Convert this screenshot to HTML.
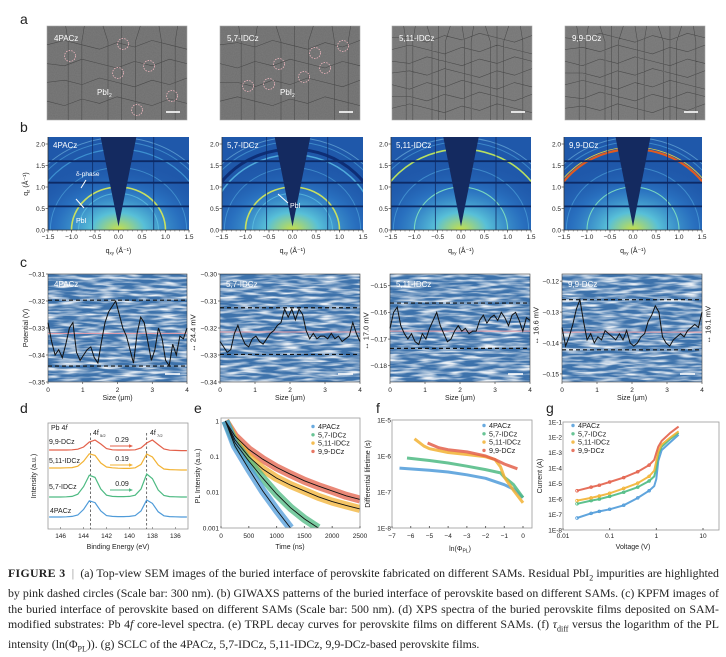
<!DOCTYPE html>
<html><head><meta charset="utf-8">
<style>
html,body{margin:0;padding:0;background:#fff;width:726px;height:649px;overflow:hidden}
svg{position:absolute;left:0;top:0;font-family:"Liberation Sans",sans-serif}
#cap{position:absolute;left:8px;top:566px;width:711px;font-family:"Liberation Serif",serif;font-size:11.85px;line-height:15.6px;color:#222;text-align:justify;text-align-last:left}
#cap b{font-weight:bold;letter-spacing:0.3px}
</style></head>
<body>
<svg id="fig" width="726" height="566" viewBox="0 0 726 566" xmlns="http://www.w3.org/2000/svg">
<defs>
<filter id="semtex" x="0" y="0" width="100%" height="100%">
<feTurbulence type="fractalNoise" baseFrequency="0.9" numOctaves="1" seed="3"/>
<feColorMatrix type="matrix" values="0 0 0 0 0.3  0 0 0 0 0.3  0 0 0 0 0.3  0 0 0 0.35 0"/>
</filter>
<filter id="kpfmtex" x="0" y="0" width="100%" height="100%">
<feTurbulence type="fractalNoise" baseFrequency="0.05 0.35" numOctaves="2" seed="7"/>
<feColorMatrix type="matrix" values="0 0 0 0 1  0 0 0 0 1  0 0 0 0 1  2.6 0 0 0 -1.0"/>
</filter>
<radialGradient id="gwglow" cx="0.5" cy="1" r="0.75">
<stop offset="0" stop-color="#c8e048"/>
<stop offset="0.25" stop-color="#58c0d8"/>
<stop offset="0.6" stop-color="#2f7fcc" stop-opacity="0.6"/>
<stop offset="1" stop-color="#1f55a8" stop-opacity="0"/>
</radialGradient>
</defs>
</svg>
<div id="cap"><b>FIGURE 3</b> &nbsp;<span style="color:#888">|</span>&nbsp; (a) Top-view SEM images of the buried interface of perovskite fabricated on different SAMs. Residual PbI<sub style="font-size:8px">2</sub> impurities are highlighted by pink dashed circles (Scale bar: 300 nm). (b) GIWAXS patterns of the buried interface of perovskite based on different SAMs. (c) KPFM images of the buried interface of perovskite based on different SAMs (Scale bar: 500 nm). (d) XPS spectra of the buried perovskite films deposited on SAM-modified substrates: Pb 4<i>f</i> core-level spectra. (e) TRPL decay curves for perovskite films on different SAMs. (f) <i>τ</i><sub style="font-size:8px">diff</sub> versus the logarithm of the PL intensity (ln(Φ<sub style="font-size:8px">PL</sub>)). (g) SCLC of the 4PACz, 5,7-IDCz, 5,11-IDCz, 9,9-DCz-based perovskite films.</div>
<script>
// ---------------- data ----------------
const samples = ["4PACz","5,7-IDCz","5,11-IDCz","9,9-DCz"];
const colors = ["#4f9bd9","#4dba82","#f2b233","#e3604a"];
const kpfmProfile1 = [-0.328,-0.335,-0.340,-0.338,-0.341,-0.336,-0.330,-0.328,-0.339,-0.342,-0.340,-0.338,-0.337,-0.341,-0.343,-0.335,-0.328,-0.324,-0.322,-0.320,-0.325,-0.330,-0.333,-0.338,-0.343,-0.332,-0.326,-0.328,-0.335,-0.342,-0.338,-0.330,-0.334,-0.342,-0.344,-0.336,-0.340,-0.333,-0.334,-0.330];
const kpfmProfile2 = [-0.325,-0.327,-0.329,-0.328,-0.322,-0.319,-0.323,-0.326,-0.327,-0.324,-0.323,-0.325,-0.326,-0.324,-0.322,-0.321,-0.319,-0.318,-0.313,-0.316,-0.313,-0.317,-0.313,-0.315,-0.321,-0.324,-0.322,-0.324,-0.323,-0.323,-0.324,-0.322,-0.324,-0.323,-0.325,-0.324,-0.323,-0.318,-0.322,-0.325];
const kpfmProfile3 = [-0.166,-0.160,-0.158,-0.165,-0.168,-0.170,-0.168,-0.171,-0.172,-0.168,-0.170,-0.166,-0.163,-0.160,-0.165,-0.168,-0.171,-0.170,-0.167,-0.165,-0.167,-0.166,-0.168,-0.167,-0.167,-0.163,-0.161,-0.164,-0.162,-0.161,-0.163,-0.160,-0.162,-0.165,-0.161,-0.160,-0.163,-0.167,-0.162,-0.163];
const kpfmProfile4 = [-0.135,-0.141,-0.138,-0.134,-0.129,-0.126,-0.133,-0.139,-0.137,-0.140,-0.138,-0.139,-0.136,-0.137,-0.138,-0.139,-0.137,-0.139,-0.136,-0.140,-0.141,-0.140,-0.138,-0.137,-0.133,-0.131,-0.128,-0.130,-0.138,-0.140,-0.141,-0.139,-0.138,-0.137,-0.138,-0.136,-0.135,-0.134,-0.135,-0.130];
const kpfmUpper = [-0.3197,-0.3125,-0.1565,-0.1260];
const kpfmLower = [-0.3441,-0.3298,-0.1735,-0.1422];
const kpfmMean = [-0.3320,-0.3215,-0.1670,-0.1365];
const kpfmSpread = ["24.4 mV","17.0 mV","16.6 mV","16.1 mV"];
const kpfmTicks1 = [-0.35,-0.34,-0.33,-0.32,-0.31];
const kpfmTicks2 = [-0.34,-0.33,-0.32,-0.31,-0.30];
const kpfmTicks3 = [-0.18,-0.17,-0.16,-0.15];
const kpfmTicks4 = [-0.15,-0.14,-0.13,-0.12];
const xpsEnergy = [147,146.5,146,145.5,145,144.5,144,143.5,143,142.5,142,141.5,141,140.5,140,139.5,139,138.5,138,137.5,137,136.5,136,135.5,135];
const xps4PACz = [0.6,0.6,0.6,0.61,0.63,0.70,0.98,1.41,1.32,0.90,0.67,0.63,0.62,0.62,0.63,0.67,0.90,1.45,1.28,0.86,0.66,0.62,0.61,0.6,0.6];
const xps57 = [1.6,1.6,1.6,1.61,1.63,1.74,2.12,2.69,2.58,2.0,1.69,1.63,1.62,1.62,1.63,1.69,2.0,2.75,2.52,1.95,1.68,1.62,1.61,1.6,1.6];
const xps511 = [3.05,3.05,3.05,3.06,3.07,3.14,3.39,3.76,3.68,3.30,3.10,3.06,3.04,3.03,3.03,3.06,3.23,3.75,3.60,3.20,3.0,2.97,2.96,2.95,2.95];
const xps99 = [3.95,3.95,3.95,3.95,3.96,3.99,4.10,4.35,4.45,4.25,4.02,3.96,3.95,3.95,3.95,3.96,4.05,4.30,4.45,4.22,4.0,3.94,3.93,3.92,3.92];
const xpsTicks = [146,144,142,140,138,136];
const xpsShift = ["0.29","0.19","0.09"];
const trplTime = [80,250,500,750,1000,1250,1500,1750,2000,2250,2500];
const trpl4PACz = [1,0.2,0.045,0.011,0.0032,0.001];
const trpl57 = [1,0.25,0.075,0.025,0.009,0.0037,0.0018,0.001];
const trpl511 = [1,0.3,0.1,0.045,0.025,0.016,0.011,0.0075,0.0055,0.0043,0.0034];
const trpl99 = [1,0.38,0.16,0.085,0.05,0.032,0.021,0.015,0.011,0.008,0.0063];
const trplXTicks = [0,500,1000,1500,2000,2500];
const trplYTicks = ["1","0.1","0.01","0.001"];
const lnPhi4PACz = [-6.6,-5,-4,-3,-2,-1,-0.5,0];
const tau4PACz = [4.6e-7,4.0e-7,3.6e-7,3.0e-7,2.4e-7,1.6e-7,1.2e-7,7e-8];
const lnPhi57 = [-6.2,-5,-4,-3,-2,-1.2,-1,-0.5,0];
const tau57 = [8.8e-7,7.5e-7,6.4e-7,5.2e-7,4.2e-7,3.4e-7,2.6e-7,1.6e-7,7e-8];
const lnPhi511 = [-5.8,-5.3,-5,-4,-3,-2,-1.5,-1.2,-1,-0.5,0];
const tau511 = [3e-6,1.9e-6,1.6e-6,1.25e-6,1.1e-6,9.5e-7,8e-7,5e-7,2.6e-7,1.1e-7,5e-8];
const lnPhi99 = [-5.1,-4.5,-4,-3,-2,-1.5,-1,-0.3];
const tau99 = [2.3e-6,1.7e-6,1.5e-6,1.3e-6,1.0e-6,8e-7,6e-7,4.4e-7];
const lifeXTicks = [-7,-6,-5,-4,-3,-2,-1,0];
const lifeYTicks = ["1E-5","1E-6","1E-7","1E-8"];
const voltage = [0.02,0.04,0.06,0.1,0.2,0.4,0.7,0.9,1.0,1.1,1.3,2,3];
const curr4PACz = [6e-8,1.2e-7,1.6e-7,2.2e-7,4e-7,1.2e-6,3.5e-6,7e-6,2e-5,3e-4,1.5e-3,5e-3,1.5e-2];
const curr57 = [5e-7,8e-7,1e-6,1.5e-6,2.8e-6,6e-6,1.5e-5,3e-5,1e-4,8e-4,2.5e-3,8e-3,2e-2];
const curr511 = [8e-7,1.2e-6,1.6e-6,2.4e-6,5e-6,1.1e-5,3e-5,7e-5,3e-4,1.2e-3,3.5e-3,1e-2,2.5e-2];
const curr99 = [3.5e-6,6e-6,8e-6,1.3e-5,2.5e-5,6e-5,1.6e-4,3.5e-4,1e-3,2.5e-3,6e-3,2e-2,5e-2];
const sclcXTicks = [0.01,0.1,1,10];
const sclcXLabels = ["0.01","0.1","1","10"];
const sclcYTicks = ["1E-1","1E-2","1E-3","1E-4","1E-5","1E-6","1E-7","1E-8"];
const giTicksX = [-1.5,-1.0,-0.5,0.0,0.5,1.0,1.5];
const giTicksY = [0.0,0.5,1.0,1.5,2.0];

const NS="http://www.w3.org/2000/svg";
const svg=document.getElementById('fig');
function add(tag,attrs,parent){const e=document.createElementNS(NS,tag);for(const k in attrs)e.setAttribute(k,attrs[k]);(parent||svg).appendChild(e);return e;}
function text(x,y,s,size,anchor,parent,fill){const t=add('text',{x:x,y:y,'font-size':size,'text-anchor':anchor||'start',fill:fill||'#222'},parent);t.textContent=s;return t;}
function lin(d0,d1,r0,r1){return v=>r0+(v-d0)*(r1-r0)/(d1-d0);}
function logs(d0,d1,r0,r1){return v=>r0+(Math.log10(v)-Math.log10(d0))*(r1-r0)/(Math.log10(d1)-Math.log10(d0));}
function pts(xs,ys,fx,fy){return xs.slice(0,ys.length).map((x,i)=>fx(x).toFixed(1)+','+fy(ys[i]).toFixed(1)).join(' ');}

[["a",20,24],["b",20,132],["c",20,267],["d",20,413],["e",194,413],["f",376,413],["g",546,413]].forEach(p=>{
  const t=text(p[1],p[2],p[0],14,'start');
  
  
});

// row a
const semX=[[47,187],[220,360],[392,532],[565,705]];
const semCircles=[[[70,56],[123,44],[118,73],[149,66],[172,96],[137,110]],[[248,86],[269,84],[279,64],[304,77],[315,53],[325,68],[343,46]],[],[]];
semX.forEach((c,i)=>{
  const g=add('g',{});
  
  
  add('rect',{x:c[0],y:26,width:c[1]-c[0],height:94,fill:i<2?'#6e6e6e':'#757575',stroke:'#aaa','stroke-width':0.6},g);
  add('rect',{x:c[0],y:26,width:c[1]-c[0],height:94,filter:'url(#semtex)'},g);
  let d='';const n=i<2?5:8;
  for(let r=1;r<n;r++){d+='M'+c[0]+','+(26+r*94/n);for(let k=1;k<=8;k++){d+=' L'+(c[0]+k*(c[1]-c[0])/8)+','+(26+r*94/n+((k*7+r*3+i)%5-2)*2.2);}}
  for(let k=1;k<n*1.5;k++){const x=c[0]+k*(c[1]-c[0])/(n*1.5);d+=' M'+x+',26';for(let r=1;r<=6;r++){d+=' L'+(x+((r*5+k*3)%5-2)*2.5)+','+(26+r*94/6);}}
  add('path',{d:d,fill:'none',stroke:'#3e3e3e','stroke-width':0.55,opacity:0.8},g);
  const lab=text(c[0]+7,41,samples[i],8,'start',g,'#fff');
  
  
  add('line',{x1:c[1]-21,x2:c[1]-7,y1:112,y2:112,stroke:'#fff','stroke-width':1.6},g);
  semCircles[i].forEach(p=>{
    const ci=add('circle',{cx:p[0],cy:p[1],r:5.5,fill:'none',stroke:'#f2b8c0','stroke-width':0.8,'stroke-dasharray':'1.5,1.2'},g);
    
    
  });
  if(i<2){const t=text(i==0?97:280,95,'PbI',8,'start',g,'#fff');const s=add('tspan',{'font-size':5,dy:2},t);s.textContent='2';}
});

// row b
const giX=[[48,189],[222,363],[391,531],[564,702]];
giX.forEach((c,i)=>{
  const fx=lin(-1.5,1.5,c[0],c[1]), fy=lin(0,2.0,230,144);
  const g=add('g',{});
  
  
  add('rect',{x:c[0],y:137,width:c[1]-c[0],height:93,fill:'#1f58aa'},g);
  add('rect',{x:c[0],y:137,width:c[1]-c[0],height:93,fill:'url(#gwglow)'},g);
  const clip='gclip'+i;
  const cp=add('clipPath',{id:clip},g);add('rect',{x:c[0],y:137,width:c[1]-c[0],height:93},cp);
  const gg=add('g',{'clip-path':'url(#'+clip+')'},g);
  const ring=(q,col,w,op)=>{const rx=fx(q)-fx(0),ry=fy(0)-fy(q);add('path',{d:`M${fx(-q)},230 A${rx},${ry} 0 0 1 ${fx(q)},230`,fill:'none',stroke:col,'stroke-width':w,opacity:op},gg);};
  ring(1.45,'#5bb8e8',1,0.5);ring(2.05,'#5bb8e8',1,0.5);ring(2.15,'#8ad0f0',1,0.5);
  if(i==0){ring(1.0,'#c8e060',1.6,1);ring(0.85,'#6ad0e8',1,0.6);ring(1.88,'#4aa8e0',1.2,0.7);}
  if(i==1){ring(1.0,'#c8e060',1.6,1);ring(0.85,'#6ad0e8',1,0.6);ring(1.88,'#0c2a70',3,0.9);ring(1.75,'#5cc0e8',1.5,0.8);}
  if(i==2){ring(1.0,'#80e0c0',1.1,0.9);ring(1.88,'#b8e060',1.6,1);}
  if(i==3){ring(1.0,'#80e0c0',1.1,0.9);ring(1.88,'#e05a20',2.2,1);ring(1.93,'#e8d040',0.8,1);}
  [0.55,1.1,1.6].forEach(q=>add('line',{x1:c[0],x2:c[1],y1:fy(q),y2:fy(q),stroke:'#0d2a66','stroke-width':1.8},gg));
  [-0.55,0.75].forEach(q=>add('line',{x1:fx(q),x2:fx(q),y1:137,y2:230,stroke:'#0d2a66','stroke-width':0.8},gg));
  add('polygon',{points:`${fx(-0.38)},137 ${fx(0.38)},137 ${fx(0)},${fy(0.08)}`,fill:'#142a60'},gg);
  add('line',{x1:c[0],x2:c[1],y1:230,y2:230,stroke:'#333','stroke-width':0.8},g);
  add('line',{x1:c[0],x2:c[0],y1:137,y2:230,stroke:'#333','stroke-width':0.8},g);
  giTicksX.forEach(v=>{add('line',{x1:fx(v),x2:fx(v),y1:230,y2:232.5,stroke:'#333','stroke-width':0.6},g);text(fx(v),239,v.toFixed(1).replace('-','−'),6.5,'middle',g);});
  for(let v=-1.5;v<=1.51;v+=0.1)add('line',{x1:fx(v),x2:fx(v),y1:230,y2:231.5,stroke:'#333','stroke-width':0.4},g);
  giTicksY.forEach(v=>{add('line',{x1:c[0]-2.5,x2:c[0],y1:fy(v),y2:fy(v),stroke:'#333','stroke-width':0.6},g);text(c[0]-3,fy(v)+2.3,v.toFixed(1),6.5,'end',g);});
  const xl=text((c[0]+c[1])/2,253,'q',7,'middle',g);const s1=add('tspan',{'font-size':4.5,dy:1.5},xl);s1.textContent='xy';const s2=add('tspan',{dy:-1.5},xl);s2.textContent=' (Å⁻¹)';
  
  
  const lab=text(c[0]+5,148,samples[i],8,'start',g,'#fff');
  
  
  if(i==0){
    const yl=text(28,184,'q',7,'middle',svg);const z1=add('tspan',{'font-size':4.5,dy:1.5},yl);z1.textContent='z';const z2=add('tspan',{dy:-1.5},yl);z2.textContent=' (Å⁻¹)';
    yl.setAttribute('transform','rotate(-90 28 184)');
    
    
    text(76,176,'δ-phase',6.5,'start',g,'#fff');text(76,223,'PbI',7,'start',g,'#fff');
    add('line',{x1:86,y1:180,x2:81,y2:188,stroke:'#fff','stroke-width':1},g);add('line',{x1:84,y1:208,x2:76,y2:199,stroke:'#fff','stroke-width':1},g);}
  if(i==1){text(290,208,'PbI',7,'start',g,'#fff');add('line',{x1:288,y1:203,x2:278,y2:194,stroke:'#fff','stroke-width':1},g);}
});

// row c
const kX=[[48,187],[220,360],[390,530],[562,702]];
const kProfiles=[kpfmProfile1,kpfmProfile2,kpfmProfile3,kpfmProfile4];
const kTicks=[kpfmTicks1,kpfmTicks2,kpfmTicks3,kpfmTicks4];
const kRange=[[-0.35,-0.31],[-0.34,-0.30],[-0.1861,-0.1456],[-0.1526,-0.1177]];
kX.forEach((c,i)=>{
  const fx=lin(0,4,c[0],c[1]), fy=lin(kRange[i][0],kRange[i][1],382,274);
  const g=add('g',{});
  
  
  add('rect',{x:c[0],y:274,width:c[1]-c[0],height:108,fill:'#3d72ab'},g);
  add('rect',{x:c[0],y:274,width:c[1]-c[0],height:108,filter:'url(#kpfmtex)',opacity:0.9},g);
  add('rect',{x:c[0],y:274,width:c[1]-c[0],height:108,fill:'none',stroke:'#444','stroke-width':0.6},g);
  add('line',{x1:c[0],x2:c[1],y1:fy(kpfmMean[i]),y2:fy(kpfmMean[i]),stroke:'#f0a0a8','stroke-width':1},g);
  [kpfmUpper[i],kpfmLower[i]].forEach(v=>{const l=add('line',{x1:c[0],x2:c[1],y1:fy(v),y2:fy(v),stroke:'#111','stroke-width':1.2,'stroke-dasharray':'4,3'},g);
    
    });
  const xs=kProfiles[i].map((v,k)=>k*4/(kProfiles[i].length-1));
  const pl=add('polyline',{points:pts(xs,kProfiles[i],fx,fy),fill:'none',stroke:'#111','stroke-width':1},g);
  
  
  add('line',{x1:c[1]-22,x2:c[1]-7,y1:374,y2:374,stroke:'#fff','stroke-width':1.6},g);
  [0,1,2,3,4].forEach(v=>{add('line',{x1:fx(v),x2:fx(v),y1:382,y2:384,stroke:'#333','stroke-width':0.6},g);text(fx(v),392,String(v),6.5,'middle',g);});
  kTicks[i].forEach(v=>{add('line',{x1:c[0]-2,x2:c[0],y1:fy(v),y2:fy(v),stroke:'#333','stroke-width':0.6},g);text(c[0]-3,fy(v)+2.3,v.toFixed(2).replace('-','−'),6.5,'end',g);});
  const xl=text((c[0]+c[1])/2,400,'Size (μm)',7,'middle',g);
  
  
  text(c[0]+6,287,samples[i],8,'start',g,'#fff');
  const mx=c[1]+6, my=(fy(kpfmUpper[i])+fy(kpfmLower[i]))/2;
  const st=text(mx,my,'↔ '+kpfmSpread[i],7.5,'middle',g);st.setAttribute('transform',`rotate(-90 ${mx} ${my})`);
  st.setAttribute('dy','2.5');
  
  
});
text(28,328,'Potential (V)',7,'middle').setAttribute('transform','rotate(-90 28 328)');

// panel d
(function(){
  const x0=48,x1=188,y0=423,y1=529;
  const fx=lin(147.1,134.9,x0,x1), fy=lin(0,5.3,y1,y0);
  const g=add('g',{});
  
  
  add('rect',{x:x0,y:y0,width:x1-x0,height:y1-y0,fill:'none',stroke:'#999','stroke-width':0.8},g);
  [143.4,138.5].forEach(e=>add('line',{x1:fx(e),x2:fx(e),y1:433,y2:y1,stroke:'#333','stroke-width':0.7,'stroke-dasharray':'2.5,2'},g));
  const ser=[xps4PACz,xps57,xps511,xps99];
  ser.forEach((s,k)=>{const p=add('polyline',{points:pts(xpsEnergy,s,fx,fy),fill:'none',stroke:colors[k],'stroke-width':1.2},g);
    
    });
  xpsTicks.forEach(v=>{add('line',{x1:fx(v),x2:fx(v),y1:y1,y2:y1-2,stroke:'#666','stroke-width':0.6},g);text(fx(v),538,String(v),6.5,'middle',g);});
  text(118,549,'Binding Energy (eV)',7,'middle',g);
  text(36,476,'Intensity (a.u.)',7,'middle',g).setAttribute('transform','rotate(-90 36 476)');
  const pb=text(51,430,'Pb 4',7,'start',g);const pf=add('tspan',{'font-style':'italic'},pb);pf.textContent='f';
  text(93,435,'4f',7,'start',g);text(100,437,'5/2',4,'start',g);
  text(150,435,'4f',7,'start',g);text(157,437,'7/2',4,'start',g);
  text(49,444,'9,9-DCz',7,'start',g);text(49,463,'5,11-IDCz',7,'start',g);text(49,489,'5,7-IDCz',7,'start',g);text(50,513,'4PACz',7,'start',g);
  [[442,3],[461,2],[486,1]].forEach((a,k)=>{text(122,a[0],xpsShift[k],7,'middle',g);
    add('line',{x1:110,x2:131,y1:a[0]+4,y2:a[0]+4,stroke:colors[a[1]],'stroke-width':0.9},g);
    add('polygon',{points:`${133},${a[0]+4} ${129},${a[0]+2.3} ${129},${a[0]+5.7}`,fill:colors[a[1]]},g);});
})();

function legend(x,y,g,prefix){samples.forEach((s,k)=>{add('circle',{cx:x,cy:y+k*8.3-2.5,r:1.7,fill:colors[k],opacity:0.85},g);const t=text(x+5,y+k*8.3,s,7.2,'start',g);
  
  });}

// panel e
(function(){
  const x0=221,x1=360,y0=421,y1=528;
  const fx=lin(0,2500,x0,x1), fy=logs(1,0.001,y0,y1);
  const g=add('g',{});
  
  
  const cp=add('clipPath',{id:'eclip'},g);add('rect',{x:x0,y:y0-3,width:x1-x0,height:y1-y0+3},cp);
  const gg=add('g',{'clip-path':'url(#eclip)'},g);
  const ser=[trpl99,trpl511,trpl57,trpl4PACz];const cidx=[3,2,1,0];
  ser.forEach((s,k)=>{
    const b=add('polyline',{points:pts(trplTime,s,fx,fy),fill:'none',stroke:colors[cidx[k]],'stroke-width':8,opacity:0.75,'stroke-linejoin':'round'},gg);
    
    });
  ser.forEach((s,k)=>{const f=add('polyline',{points:pts(trplTime,s,fx,fy),fill:'none',stroke:'#111','stroke-width':0.9},gg);
    
    });
  add('rect',{x:x0,y:y0-3,width:x1-x0,height:y1-y0+3,fill:'none',stroke:'#999','stroke-width':0.8},g);
  trplXTicks.forEach(v=>{text(fx(v),538,String(v),6.5,'middle',g);add('line',{x1:fx(v),x2:fx(v),y1:y1,y2:y1-2,stroke:'#666'},g);});
  [1,0.1,0.01,0.001].forEach((v,k)=>text(x0-2,fy(v)+2.3,trplYTicks[k],6.5,'end',g));
  text(290,549,'Time (ns)',7,'middle',g);
  text(200,476,'PL Intensity (a.u.)',7,'middle',g).setAttribute('transform','rotate(-90 200 476)');
  legend(313,429,g,'trpl');
})();

// panel f
(function(){
  const x0=392,x1=532,y0=420,y1=528;
  const fx=lin(-7,0,x0,523), fy=logs(1e-5,1e-8,y0,y1);
  const g=add('g',{});
  
  
  add('rect',{x:x0,y:y0,width:x1-x0,height:y1-y0,fill:'none',stroke:'#999','stroke-width':0.8},g);
  const xs=[lnPhi4PACz,lnPhi57,lnPhi511,lnPhi99], ys=[tau4PACz,tau57,tau511,tau99];
  xs.forEach((x,k)=>{const p=add('polyline',{points:pts(x,ys[k],fx,fy),fill:'none',stroke:colors[k],'stroke-width':3,opacity:0.85,'stroke-linejoin':'round'},g);
    
    });
  lifeXTicks.forEach(v=>{text(fx(v),538,String(v).replace('-','−'),6.5,'middle',g);add('line',{x1:fx(v),x2:fx(v),y1:y1,y2:y1-2,stroke:'#666'},g);});
  [1e-5,1e-6,1e-7,1e-8].forEach((v,k)=>text(x0-1,fy(v)+2.3,lifeYTicks[k],6.5,'end',g));
  const t=text(460,551,'ln(Φ',7,'middle',g);const s=add('tspan',{'font-size':5,dy:1.5},t);s.textContent='PL';const s2=add('tspan',{dy:-1.5},t);s2.textContent=')';
  text(370,474,'Differential lifetime (s)',7,'middle',g).setAttribute('transform','rotate(-90 370 474)');
  legend(484,428,g,'lifetime');
})();

// panel g
(function(){
  const x0=563,x1=719,y0=422,y1=530;
  const fx=logs(0.01,10,x0,703), fy=logs(0.1,1e-8,y0,y1);
  const g=add('g',{});
  
  
  add('rect',{x:x0,y:y0,width:x1-x0,height:y1-y0,fill:'none',stroke:'#999','stroke-width':0.8},g);
  const ser=[curr4PACz,curr57,curr511,curr99];
  ser.forEach((s,k)=>{const p=add('polyline',{points:pts(voltage,s,fx,fy),fill:'none',stroke:colors[k],'stroke-width':2,opacity:0.9},g);
    
    
    voltage.slice(0,7).forEach((v,j)=>add('circle',{cx:fx(v),cy:fy(s[j]),r:1.4,fill:'none',stroke:colors[k],'stroke-width':0.7},g));});
  sclcXTicks.forEach((v,k)=>{text(fx(v),538,sclcXLabels[k],6.5,'middle',g);add('line',{x1:fx(v),x2:fx(v),y1:y1,y2:y1-2,stroke:'#666'},g);});
  [1e-1,1e-2,1e-3,1e-4,1e-5,1e-6,1e-7,1e-8].forEach((v,k)=>text(x0-1,fy(v)+2.3,sclcYTicks[k],6.5,'end',g));
  text(633,549,'Voltage (V)',7,'middle',g);
  text(542,476,'Current (A)',7,'middle',g).setAttribute('transform','rotate(-90 542 476)');
  legend(573,428,g,'sclc');
})();
</script>
</body></html>
